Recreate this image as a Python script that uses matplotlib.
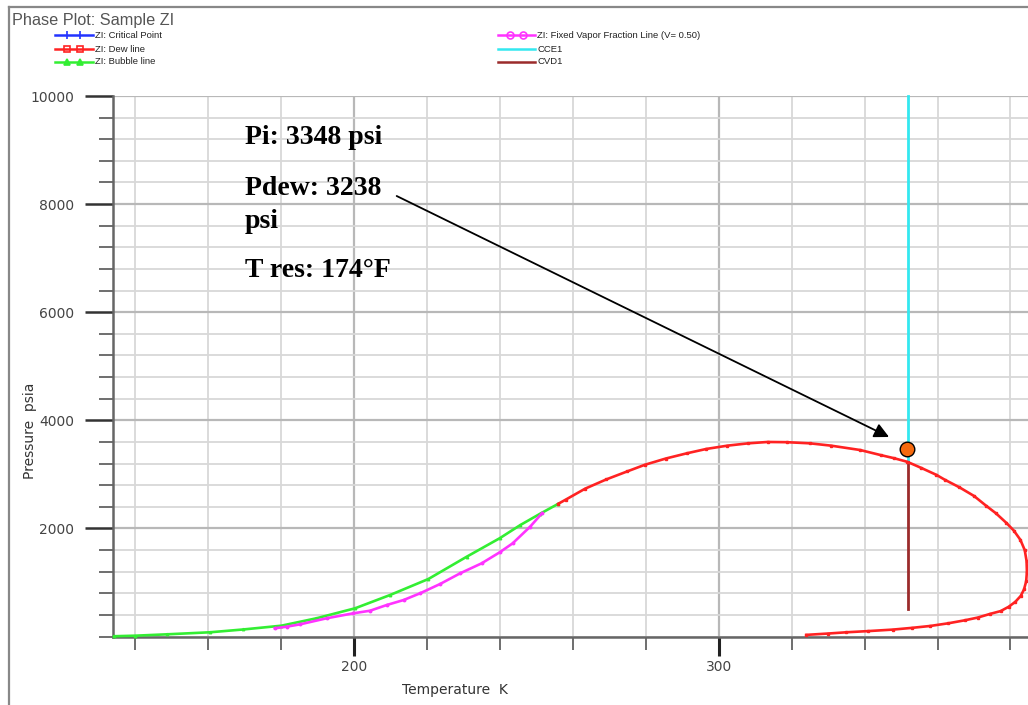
import matplotlib
matplotlib.use('Agg')
import matplotlib.pyplot as plt
from matplotlib.lines import Line2D
from matplotlib.ticker import MultipleLocator, FixedLocator

# ---------------- data ----------------
title = "Phase Plot: Sample ZI"

bubble_T = [134.2, 140.0, 148.6, 160.5, 169.6, 180.1, 189.7, 200.3, 209.9, 220.4, 230.9, 240.0, 245.6, 251.0, 256.0]
bubble_P = [5, 15, 40, 78, 130, 200, 337, 522, 768, 1064, 1476, 1820, 2062, 2270, 2455]

dew_T = [256.0, 258.1, 263.4, 269.2, 274.9, 279.7, 285.5, 291.3, 296.6, 302.4, 308.1, 313.4, 318.7,
         325.0, 330.8, 338.8, 344.5, 348.0, 351.7, 355.5, 359.7, 362.0, 366.0, 370.0, 373.3, 376.0,
         378.9, 380.9, 382.7, 383.9, 384.4, 384.5, 384.3, 383.7, 382.8, 381.3, 379.5, 377.3, 374.5,
         371.0, 367.5, 363.0, 358.0, 353.0, 347.8, 341.0, 335.0, 330.0, 324.0]
dew_P = [2455, 2534, 2736, 2907, 3054, 3176, 3293, 3390, 3470, 3531, 3574, 3599, 3595,
         3574, 3531, 3450, 3355, 3300, 3232, 3120, 2990, 2900, 2760, 2600, 2420, 2280,
         2100, 1960, 1790, 1600, 1400, 1200, 1020, 870, 750, 640, 550, 470, 420,
         350, 300, 245, 195, 160, 128, 100, 78, 55, 30]

vf_T = [178.3, 181.5, 185.2, 192.5, 199.8, 204.4, 209.0, 213.6, 218.1, 223.6, 229.1, 235.0, 240.0, 243.5, 248.3, 251.5]
vf_P = [152, 181, 225, 337, 429, 477, 583, 675, 799, 971, 1169, 1354, 1560, 1724, 2032, 2277]

cce_T = [351.9, 351.9]
cce_P = [10000, 3235]
cvd_T = [351.9, 351.9]
cvd_P = [3235, 500]

pi_T, pi_P = 351.6, 3460
arrow_from = (211.7, 8150)
arrow_to = (346.7, 3691)

notes = ["Pi: 3348 psi", "Pdew: 3238", "psi", "T res: 174\u00b0F"]

legend_col1 = ["ZI: Critical Point", "ZI: Dew line", "ZI: Bubble line"]
legend_col2 = ["ZI: Fixed Vapor Fraction Line (V= 0.50)", "CCE1", "CVD1"]

x_major = [200, 300]
y_major = [2000, 4000, 6000, 8000, 10000]

# ---------------- figure ----------------
W, H = 1028, 705
fig = plt.figure(figsize=(W / 100, H / 100), dpi=100)
fig.patch.set_facecolor('white')


def fx(px):
    return px / W


def fy(py):
    return 1 - py / H


ax = fig.add_axes([fx(113.3), fy(636.5), fx(1028) - fx(113.3), fy(96) - fy(636.5)])
ax.set_xlim(134.0, 384.8)
ax.set_ylim(0, 10000)
ax.set_facecolor('white')

RED = '#ff2222'
GREEN = '#33ee33'
MAG = '#ff33ff'
CYAN = '#33e8f0'
MAROON = '#9b2b2b'
BLUE = '#2233ff'

ax.plot(bubble_T, bubble_P, color=GREEN, lw=1.9, marker='^', ms=1.8, zorder=3, clip_on=False)
ax.plot(vf_T, vf_P, color=MAG, lw=1.9, marker='o', ms=1.8, zorder=3)
ax.plot(dew_T, dew_P, color=RED, lw=1.9, marker='s', ms=1.6, zorder=4, clip_on=False)
ax.plot(cce_T, cce_P, color=CYAN, lw=2.0, zorder=3, clip_on=False)
ax.plot(cvd_T, cvd_P, color=MAROON, lw=2.0, zorder=3)
ax.scatter([pi_T], [pi_P], s=110, color='#f56a0f', edgecolor='black', linewidth=1.0, zorder=6)
ax.annotate('', xy=arrow_to, xytext=arrow_from,
            arrowprops=dict(arrowstyle='-|>', color='black', lw=1.3, mutation_scale=22,
                            shrinkA=0, shrinkB=0), zorder=7)

# ticks and grid
ax.xaxis.set_major_locator(FixedLocator(x_major))
ax.xaxis.set_minor_locator(MultipleLocator(20))
ax.yaxis.set_major_locator(FixedLocator(y_major))
ax.yaxis.set_minor_locator(MultipleLocator(400))
ax.set_axisbelow(True)
ax.grid(which='minor', color='#d8d8d8', lw=1.3)
ax.grid(which='major', color='#b8b8b8', lw=1.6)

ax.tick_params(axis='y', which='major', length=20, width=1.8, color='#333333', pad=8,
               labelsize=10, labelcolor='#444444')
ax.tick_params(axis='y', which='minor', length=10, width=1.2, color='#555555')
ax.tick_params(axis='x', which='major', length=14, width=2.2, color='#222222', pad=3,
               labelsize=10, labelcolor='#444444')
ax.tick_params(axis='x', which='minor', length=9, width=1.2, color='#555555')
for lab in ax.get_xticklabels() + ax.get_yticklabels():
    lab.set_family('DejaVu Sans')

for s in ['top', 'right']:
    ax.spines[s].set_visible(False)
for s in ['left', 'bottom']:
    ax.spines[s].set_color('#666666')
    ax.spines[s].set_linewidth(1.8)

fig.text(fx(455), fy(690), "Temperature  K", ha='center', va='center', fontsize=10,
         color='#333333', family='DejaVu Sans')
fig.text(fx(30), fy(431), "Pressure  psia", ha='center', va='center', rotation=90, fontsize=10,
         color='#333333', family='DejaVu Sans')

# outer border
fig.add_artist(Line2D([fx(9), fx(9)], [fy(7), -0.05], color='#888888', lw=1.6))
fig.add_artist(Line2D([fx(9), 1.05], [fy(7), fy(7)], color='#888888', lw=1.6))

# title
fig.text(fx(12), fy(25), title, ha='left', va='baseline', fontsize=11.7, color='#555555',
         family='Liberation Sans')

# legend (manual)
rows = [35, 49, 62]
styles1 = [(BLUE, '|', 'full'), (RED, 's', 'none'), (GREEN, '^', 'full')]
styles2 = [(MAG, 'o', 'none'), (CYAN, None, 'none'), (MAROON, None, 'none')]


def legend_entry(x0, x1, mx, y, label, color, marker, fill):
    fig.add_artist(Line2D([fx(x0), fx(x1)], [fy(y), fy(y)], color=color, lw=1.8))
    if marker is not None:
        fig.add_artist(Line2D([fx(m) for m in mx], [fy(y)] * len(mx), color=color, lw=0,
                              marker=marker, ms=5 if marker != '|' else 6, mew=1.2,
                              fillstyle=fill))
    fig.text(fx(x1 + 2), fy(y), label, ha='left', va='center', fontsize=6.8, color='#222222',
             family='Liberation Sans')


for y, lab, (c, m, f) in zip(rows, legend_col1, styles1):
    legend_entry(55, 93, [67, 80], y, lab, c, m, f)
for y, lab, (c, m, f) in zip(rows, legend_col2, styles2):
    legend_entry(498, 535, [510, 522.7], y, lab, c, m, f)

# text notes
note_base = [144, 195, 228, 277]
for t, b in zip(notes, note_base):
    fig.text(fx(245), fy(b), t, ha='left', va='baseline', fontsize=20, fontweight='bold',
             family='Liberation Serif', color='black')

fig.savefig('out.png', dpi=100)
